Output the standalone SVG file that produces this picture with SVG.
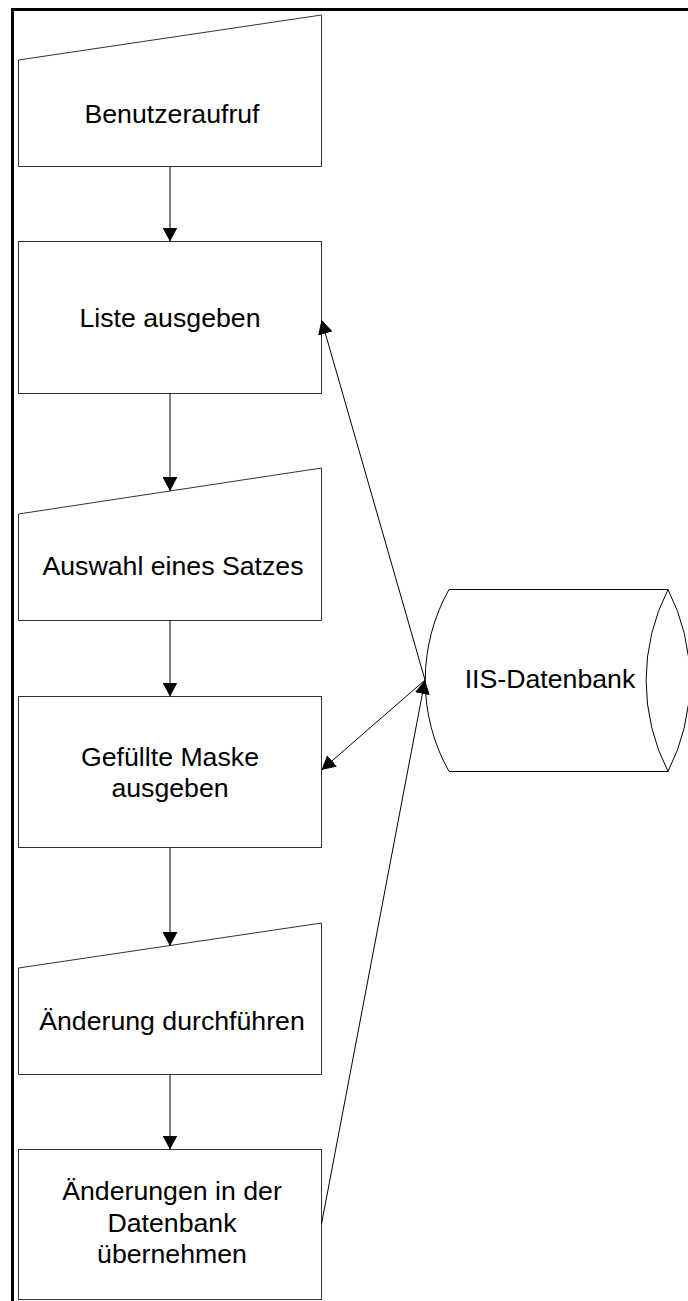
<svg xmlns="http://www.w3.org/2000/svg" width="688" height="1301" viewBox="0 0 688 1301">
  <style>
    .shape { fill: #fff; stroke: #333; stroke-width: 1; }
    .outline { fill: none; stroke: #000; stroke-width: 1; }
    .edge { fill: none; stroke: #000; stroke-width: 1; }
    .label { font-family: "Liberation Sans", Arial, Helvetica, sans-serif; font-size: 26.7px; fill: #000; text-anchor: middle; }
  </style>
  <defs>
    <marker id="arrow" markerUnits="userSpaceOnUse" markerWidth="14" markerHeight="15" viewBox="0 0 14 15" refX="14" refY="7.5" orient="auto">
      <path d="M0,0 L14,7.5 L0,15 Z" fill="#000"/>
    </marker>
  </defs>

  <rect x="0" y="0" width="688" height="1301" fill="#fff"/>

  <!-- page frame -->
  <path d="M12.5,1301 V9.5 H688" fill="none" stroke="#000" stroke-width="3"/>

  <!-- flow steps -->
  <g id="node-benutzeraufruf">
    <polygon class="shape" points="18.5,60 321.5,15 321.5,166.5 18.5,166.5"/>
    <text class="label" x="172" y="123">Benutzeraufruf</text>
  </g>
  <g id="node-liste">
    <rect class="shape" x="18.5" y="241.5" width="303" height="152"/>
    <text class="label" x="170" y="327">Liste ausgeben</text>
  </g>
  <g id="node-auswahl">
    <polygon class="shape" points="18.5,514 321.5,468 321.5,620.5 18.5,620.5"/>
    <text class="label" x="173" y="575">Auswahl eines Satzes</text>
  </g>
  <g id="node-maske">
    <rect class="shape" x="18.5" y="696.5" width="303" height="151"/>
    <text class="label" x="170" y="766">Gefüllte Maske</text>
    <text class="label" x="170" y="797">ausgeben</text>
  </g>
  <g id="node-aenderung">
    <polygon class="shape" points="18.5,968 321.5,923 321.5,1074.5 18.5,1074.5"/>
    <text class="label" x="172" y="1030">Änderung durchführen</text>
  </g>
  <g id="node-uebernehmen">
    <rect class="shape" x="18.5" y="1149.5" width="303" height="150"/>
    <text class="label" x="172" y="1200">Änderungen in der</text>
    <text class="label" x="172" y="1232">Datenbank</text>
    <text class="label" x="172" y="1263">übernehmen</text>
  </g>

  <!-- database store: horizontal drum with curved ends -->
  <g id="node-datenbank">
    <path d="M449,589.5 H668 A200,200 0 0 0 668,771.5 H449 A186,186 0 0 1 449,589.5 Z" fill="#fff" stroke="none"/>
    <path class="outline" d="M449,589.5 H668 M668,771.5 H449 M449,589.5 A186,186 0 0 0 449,771.5"/>
    <path class="outline" d="M668,589.5 A200,200 0 0 0 668,771.5 A200,200 0 0 0 668,589.5"/>
    <text class="label" x="550" y="688">IIS-Datenbank</text>
  </g>

  <!-- connectors -->
  <g id="connectors">
    <line class="edge" x1="170" y1="166.5" x2="170" y2="241.5" marker-end="url(#arrow)"/>
    <line class="edge" x1="170" y1="393.5" x2="170" y2="491" marker-end="url(#arrow)"/>
    <line class="edge" x1="170" y1="620.5" x2="170" y2="696.5" marker-end="url(#arrow)"/>
    <line class="edge" x1="170" y1="847.5" x2="170" y2="946" marker-end="url(#arrow)"/>
    <line class="edge" x1="170" y1="1074.5" x2="170" y2="1149.5" marker-end="url(#arrow)"/>
    <line class="edge" x1="425" y1="680" x2="321.5" y2="320" marker-end="url(#arrow)"/>
    <line class="edge" x1="425" y1="680" x2="321.5" y2="770" marker-end="url(#arrow)"/>
    <line class="edge" x1="321.5" y1="1224" x2="425" y2="680" marker-end="url(#arrow)"/>
  </g>
</svg>
